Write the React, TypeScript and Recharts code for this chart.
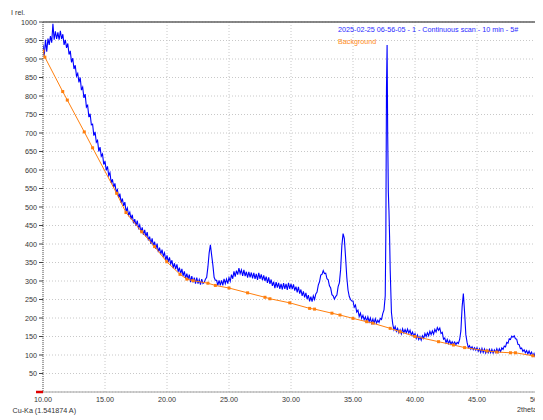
import React from 'react';
import { LineChart, Line, XAxis, YAxis, CartesianGrid, ReferenceLine } from 'recharts';

const scanStart = 10;
const scanStep = 0.1;
// measured intensity, 10.0 .. 50.0 deg, one value per 0.1 deg
const intensity = [
  938, 908, 952, 920, 955, 938, 962, 944, 995, 952,
  975, 954, 972, 952, 976, 954, 967, 938, 952, 930,
  942, 912, 922, 891, 902, 873, 883, 854, 861, 837,
  850, 816, 824, 795, 805, 770, 775, 743, 752, 722,
  724, 693, 703, 675, 680, 650, 662, 637, 643, 615,
  624, 599, 610, 585, 593, 565, 575, 553, 564, 541,
  547, 525, 536, 511, 523, 503, 513, 488, 497, 478,
  486, 467, 479, 456, 467, 449, 463, 443, 452, 432,
  445, 425, 438, 420, 432, 410, 420, 400, 415, 395,
  406, 387, 401, 378, 390, 372, 385, 367, 376, 356,
  369, 351, 364, 346, 356, 335, 348, 332, 345, 325,
  336, 319, 333, 314, 326, 307, 320, 305, 317, 297,
  313, 296, 309, 293, 309, 293, 304, 290, 305, 293,
  296, 305, 310, 338, 376, 398, 370, 343, 310, 302,
  302, 288, 302, 288, 302, 288, 306, 293, 305, 293,
  309, 299, 317, 306, 326, 312, 328, 317, 335, 320,
  330, 314, 330, 313, 325, 309, 325, 310, 323, 307,
  322, 306, 319, 303, 322, 306, 318, 302, 315, 300,
  312, 295, 310, 292, 304, 287, 298, 281, 297, 282,
  295, 279, 292, 277, 294, 279, 292, 276, 295, 279,
  292, 278, 291, 274, 285, 269, 284, 266, 277, 260,
  272, 256, 268, 251, 262, 245, 258, 244, 260, 250,
  265, 270, 289, 298, 316, 318, 328, 320, 321, 306,
  303, 287, 281, 263, 260, 251, 258, 262, 285, 295,
  330, 395, 428, 415, 365, 310, 275, 258, 250, 246,
  246, 229, 235, 216, 221, 204, 213, 199, 207, 195,
  203, 191, 203, 190, 200, 186, 197, 186, 198, 186,
  194, 188, 199, 196, 212, 222, 260, 820, 690, 490,
  330, 215, 185, 168, 177, 164, 172, 160, 168, 157,
  171, 160, 169, 160, 170, 159, 167, 154, 162, 151,
  158, 145, 154, 142, 150, 140, 152, 145, 158, 150,
  160, 152, 164, 155, 165, 156, 169, 162, 174, 167,
  173, 158, 161, 143, 146, 133, 142, 131, 139, 129,
  136, 129, 135, 128, 134, 131, 142, 165, 230, 266,
  215, 155, 134, 120, 125, 116, 122, 114, 120, 113,
  120, 110, 117, 107, 118, 107, 116, 105, 114, 106,
  115, 106, 115, 105, 114, 107, 117, 107, 117, 109,
  119, 115, 124, 122, 134, 132, 144, 142, 151, 148,
  152, 144, 143, 129, 128, 117, 119, 110, 114, 106,
  112, 103, 111, 102, 108, 97, 104, 94, 100, 91,
  93,
];
// extra fine-step points around the sharp 37.7 deg reflection
const peakTheta = [37.65, 37.75, 37.85, 37.95];
const peakIntensity = [430, 938, 540, 420];

const bgTheta = [10.0, 10.15, 11.59, 11.96, 13.33, 14.0, 15.94, 16.69, 17.96, 19.0, 19.98, 21.05, 21.6, 22.1, 23.3, 23.9, 25.0, 26.5, 27.9, 28.3, 29.9, 31.5, 31.9, 33.3, 33.95, 35.0, 36.1, 36.6, 38.0, 38.8, 40.0, 41.9, 43.1, 44.0, 45.8, 46.6, 47.7, 48.1, 49.5, 49.8, 50.0];
const bgIntensity = [922, 905, 812, 789, 703, 660, 537, 485, 433, 393, 352, 318, 305, 301, 294, 288, 281, 268, 256, 252, 241, 226, 224, 213, 208, 199, 190, 186, 172, 163, 150, 136, 127, 120, 111, 108, 106, 106, 98, 94, 92];

const xTicks = [10, 15, 20, 25, 30, 35, 40, 45, 50];
const yTicks = [0, 50, 100, 150, 200, 250, 300, 350, 400, 450, 500, 550, 600, 650, 700, 750, 800, 850, 900, 950, 1000];
const seriesNames = ['2025-02-25 06-56-05 - 1 - Continuous scan - 10 min - 5#', 'Background'];
const yTitle = 'I rel.';
const xTitle = '2theta';
const radiation = 'Cu-Ka (1.541874 A)';

const scanData = intensity
  .map((v, i) => ({ t: Math.round((scanStart + i * scanStep) * 100) / 100, v }))
  .concat(peakTheta.map((t, i) => ({ t, v: peakIntensity[i] })))
  .sort((a, b) => a.t - b.t);
const bgData = bgTheta.map((t, i) => ({ t, v: bgIntensity[i] }));

const FONT = '"Liberation Sans", Arial, sans-serif';
const TXT = '#333333';

const YTick = (props: any) => {
  const { x, y, payload } = props;
  if (payload.value === 0) {
    return <line x1={x - 1} x2={x + 6} y1={y} y2={y} stroke="#e00000" strokeWidth={2.5} />;
  }
  return (
    <text x={x} y={y} dy="0.35em" textAnchor="end" fontSize={7.2} fontFamily={FONT} fill={TXT}>
      {payload.value}
    </text>
  );
};

const BgDot = (props: any) => {
  const { cx, cy, index } = props;
  return <rect key={'d' + index} x={cx - 1.5} y={cy - 1.5} width={3} height={3} fill="#ff7f0e" />;
};

export default function App() {
  return (
    <div style={{ position: 'relative', width: 535, height: 412 }}>
      <LineChart width={535} height={412} margin={{ top: 14, right: 4, bottom: 8, left: 0 }}>
        <CartesianGrid stroke="#c8c8c8" strokeDasharray="1 2" />
        <XAxis
          type="number"
          dataKey="t"
          domain={[10, 50]}
          ticks={xTicks}
          interval={0}
          allowDataOverflow
          height={20}
          tickSize={3}
          tickMargin={2}
          tickLine={false}
          tickFormatter={(v: number) => v.toFixed(2)}
          tick={{ fontSize: 7.2, fontFamily: FONT, fill: TXT }}
          axisLine={{ stroke: '#a0a0a0' }}
        />
        <YAxis
          type="number"
          dataKey="v"
          domain={[0, 1000]}
          ticks={yTicks}
          interval={0}
          allowDataOverflow
          width={35}
          tickSize={4}
          tickMargin={2}
          tickLine={{ stroke: '#444' }}
          tick={<YTick />}
          axisLine={{ stroke: '#555', strokeDasharray: '1 1' }}
        />
        <ReferenceLine y={1000} stroke="#606060" strokeWidth={1.6} />
        <ReferenceLine x={50} stroke="#8a8a8a" strokeWidth={1.4} />
        <Line
          data={scanData}
          dataKey="v"
          name={seriesNames[0]}
          stroke="#0000ff"
          strokeWidth={1.1}
          dot={false}
          isAnimationActive={false}
          type="linear"
        />
        <Line
          data={bgData}
          dataKey="v"
          name={seriesNames[1]}
          stroke="#ff7f0e"
          strokeWidth={1}
          dot={<BgDot />}
          isAnimationActive={false}
          type="linear"
        />
      </LineChart>
      <svg
        width={535}
        height={412}
        style={{ position: 'absolute', left: 0, top: 0, pointerEvents: 'none' }}
        fontFamily={FONT}
        fontSize={7.2}
      >
        <text x={3} y={7} fill={TXT}>{yTitle}</text>
        <text x={330} y={24} fill="#2a2aff">{seriesNames[0]}</text>
        <text x={330} y={36} fill="#ff8c1a">{seriesNames[1]}</text>
        <text x={4.5} y={405} fill={TXT}>{radiation}</text>
        <text x={509} y={404} fill={TXT}>{xTitle}</text>
      </svg>
    </div>
  );
}
